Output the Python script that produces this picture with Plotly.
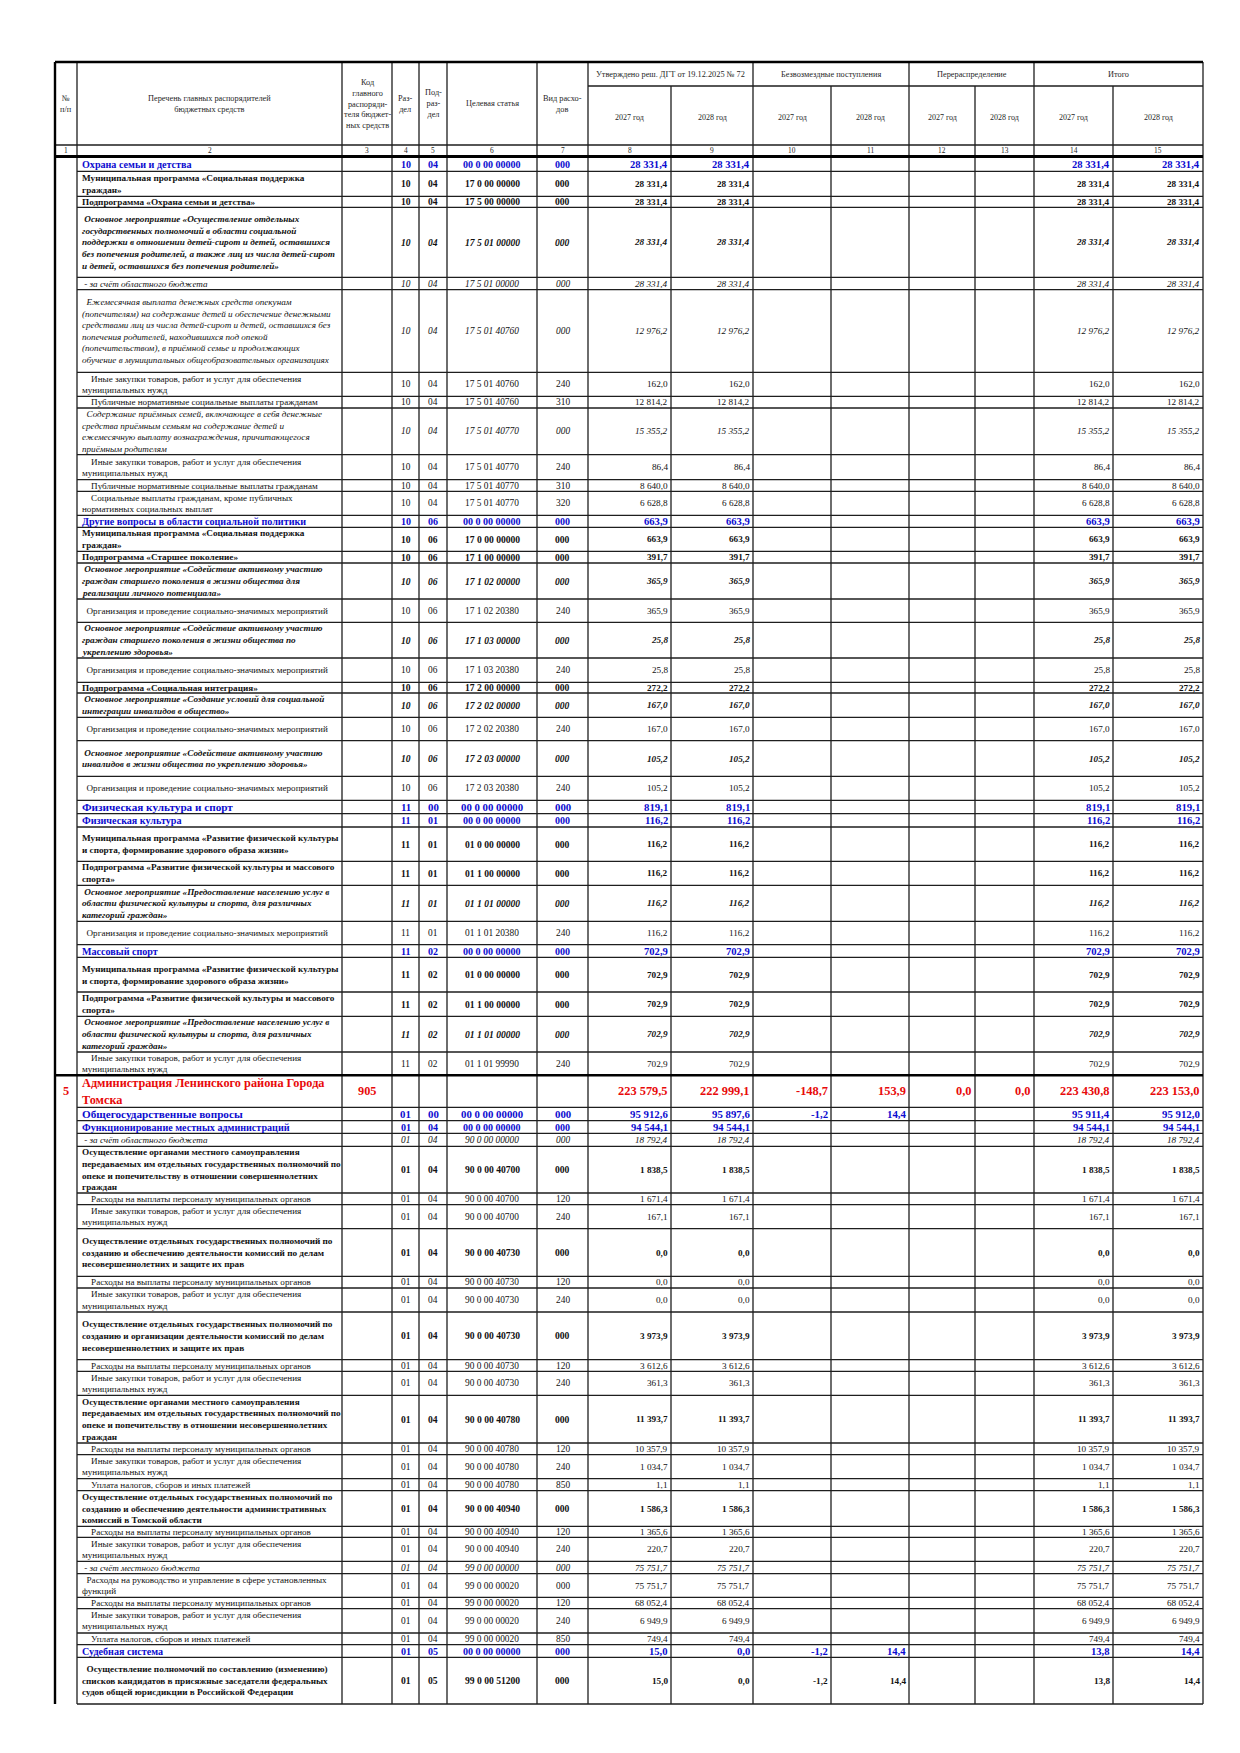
import plotly.graph_objects as go

BLUE = "#0b0bd0"
RED = "#e80a0a"
INK = "#111111"
GRID = "#1e1e1e"
FONT = "Liberation Serif"
NB = "\u00a0"

# ---------------- данные таблицы ----------------
IZ = "Иные закупки товаров, работ и услуг для обеспечения<br>муниципальных нужд"
PUB = "Публичные нормативные социальные выплаты гражданам"
ORG = "Организация и проведение социально-значимых мероприятий"
RV = "Расходы на выплаты персоналу муниципальных органов"
UN = "Уплата налогов, сборов и иных платежей"
MP_SP = "Муниципальная программа «Социальная поддержка<br>граждан»"
MP_FK = "Муниципальная программа «Развитие физической культуры<br>и спорта, формирование здорового образа жизни»"
PP_FK = "Подпрограмма «Развитие физической культуры и массового<br>спорта»"
OM_FK = ("Основное мероприятие «Предоставление населению услуг в<br>области физической культуры и спорта, "
         "для различных<br>категорий граждан»")

names = [
    "Охрана семьи и детства",
    MP_SP,
    "Подпрограмма «Охрана семьи и детства»",
    "Основное мероприятие «Осуществление отдельных<br>государственных полномочий в области социальной<br>"
    "поддержки в отношении детей-сирот и детей, оставшихся<br>без попечения родителей, а также лиц из числа детей-сирот<br>"
    "и детей, оставшихся без попечения родителей»",
    "- за счёт областного бюджета",
    "Ежемесячная выплата денежных средств опекунам<br>(попечителям) на содержание детей и обеспечение денежными<br>"
    "средствами лиц из числа детей-сирот и детей, оставшихся без<br>попечения родителей, находившихся под опекой<br>"
    "(попечительством), в приёмной семье и продолжающих<br>обучение в муниципальных общеобразовательных организациях",
    IZ,
    PUB,
    "Содержание приёмных семей, включающее в себя денежные<br>средства приёмным семьям на содержание детей и<br>"
    "ежемесячную выплату вознаграждения, причитающегося<br>приёмным родителям",
    IZ,
    PUB,
    "Социальные выплаты гражданам, кроме публичных<br>нормативных социальных выплат",
    "Другие вопросы в области социальной политики",
    MP_SP,
    "Подпрограмма «Старшее поколение»",
    "Основное мероприятие «Содействие активному участию<br>граждан старшего поколения в жизни общества для<br>"
    "реализации личного потенциала»",
    ORG,
    "Основное мероприятие «Содействие активному участию<br>граждан старшего поколения в жизни общества по<br>"
    "укреплению здоровья»",
    ORG,
    "Подпрограмма «Социальная интеграция»",
    "Основное мероприятие «Создание условий для социальной<br>интеграции инвалидов в общество»",
    ORG,
    "Основное мероприятие «Содействие активному участию<br>инвалидов в жизни общества по укреплению здоровья»",
    ORG,
    "Физическая культура и спорт",
    "Физическая культура",
    MP_FK,
    PP_FK,
    OM_FK,
    ORG,
    "Массовый спорт",
    MP_FK,
    PP_FK,
    OM_FK,
    IZ,
    "Администрация Ленинского района Города<br>Томска",
    "Общегосударственные вопросы",
    "Функционирование местных администраций",
    "- за счёт областного бюджета",
    "Осуществление органами местного самоуправления<br>передаваемых им отдельных государственных полномочий по<br>"
    "опеке и попечительству в отношении совершеннолетних<br>граждан",
    RV,
    IZ,
    "Осуществление отдельных государственных полномочий по<br>созданию и обеспечению деятельности комиссий по делам<br>"
    "несовершеннолетних и защите их прав",
    RV,
    IZ,
    "Осуществление отдельных государственных полномочий по<br>созданию и организации деятельности комиссий по делам<br>"
    "несовершеннолетних и защите их прав",
    RV,
    IZ,
    "Осуществление органами местного самоуправления<br>передаваемых им отдельных государственных полномочий по<br>"
    "опеке и попечительству в отношении несовершеннолетних<br>граждан",
    RV,
    IZ,
    UN,
    "Осуществление отдельных государственных полномочий по<br>созданию и обеспечению деятельности административных<br>"
    "комиссий в Томской области",
    RV,
    IZ,
    "- за счёт местного бюджета",
    "Расходы на руководство и управление в сфере установленных<br>функций",
    RV,
    IZ,
    UN,
    "Судебная система",
    "Осуществление полномочий по составлению (изменению)<br>списков кандидатов в присяжные заседатели федеральных<br>"
    "судов общей юрисдикции в Российской Федерации",
]

row_kind = [
    "sec", "prog", "prog", "event", "budget", "itemi", "item", "item", "itemi", "item",
    "item", "item", "sec", "prog", "prog", "event", "item2", "event", "item2", "prog",
    "event", "item2", "event", "item2", "top", "sec", "prog", "prog", "event", "item2",
    "sec", "prog", "prog", "event", "item", "admin", "top", "sec", "budget", "prog",
    "item", "item", "prog", "item", "item", "prog", "item", "item", "prog", "item",
    "item", "item", "prog", "item", "item", "budget", "item2", "item", "item", "item",
    "sec", "prog2",
]

nn = [""] * 35 + ["5"] + [""] * 26
grbs = [""] * 35 + ["905"] + [""] * 26

razdel = ["10"] * 24 + ["11"] * 11 + [""] + ["01"] * 26
podrazdel = (["04"] * 12 + ["06"] * 12 + ["00"] + ["01"] * 5 + ["02"] * 5 + [""]
             + ["00"] + ["04"] * 23 + ["05"] * 2)
target = [
    "00 0 00 00000", "17 0 00 00000", "17 5 00 00000", "17 5 01 00000", "17 5 01 00000",
    "17 5 01 40760", "17 5 01 40760", "17 5 01 40760", "17 5 01 40770", "17 5 01 40770",
    "17 5 01 40770", "17 5 01 40770", "00 0 00 00000", "17 0 00 00000", "17 1 00 00000",
    "17 1 02 00000", "17 1 02 20380", "17 1 03 00000", "17 1 03 20380", "17 2 00 00000",
    "17 2 02 00000", "17 2 02 20380", "17 2 03 00000", "17 2 03 20380", "00 0 00 00000",
    "00 0 00 00000", "01 0 00 00000", "01 1 00 00000", "01 1 01 00000", "01 1 01 20380",
    "00 0 00 00000", "01 0 00 00000", "01 1 00 00000", "01 1 01 00000", "01 1 01 99990",
    "", "00 0 00 00000", "00 0 00 00000", "90 0 00 00000", "90 0 00 40700",
    "90 0 00 40700", "90 0 00 40700", "90 0 00 40730", "90 0 00 40730", "90 0 00 40730",
    "90 0 00 40730", "90 0 00 40730", "90 0 00 40730", "90 0 00 40780", "90 0 00 40780",
    "90 0 00 40780", "90 0 00 40780", "90 0 00 40940", "90 0 00 40940", "90 0 00 40940",
    "99 0 00 00000", "99 0 00 00020", "99 0 00 00020", "99 0 00 00020", "99 0 00 00020",
    "00 0 00 00000", "99 0 00 51200",
]
vid = [
    "000", "000", "000", "000", "000", "000", "240", "310", "000", "240",
    "310", "320", "000", "000", "000", "000", "240", "000", "240", "000",
    "000", "240", "000", "240", "000", "000", "000", "000", "000", "240",
    "000", "000", "000", "000", "240", "", "000", "000", "000", "000",
    "120", "240", "000", "120", "240", "000", "120", "240", "000", "120",
    "240", "850", "000", "120", "240", "000", "000", "120", "240", "850",
    "000", "000",
]

utv_2027 = [
    28331.4, 28331.4, 28331.4, 28331.4, 28331.4, 12976.2, 162.0, 12814.2, 15355.2, 86.4,
    8640.0, 6628.8, 663.9, 663.9, 391.7, 365.9, 365.9, 25.8, 25.8, 272.2,
    167.0, 167.0, 105.2, 105.2, 819.1, 116.2, 116.2, 116.2, 116.2, 116.2,
    702.9, 702.9, 702.9, 702.9, 702.9, 223579.5, 95912.6, 94544.1, 18792.4, 1838.5,
    1671.4, 167.1, 0.0, 0.0, 0.0, 3973.9, 3612.6, 361.3, 11393.7, 10357.9,
    1034.7, 1.1, 1586.3, 1365.6, 220.7, 75751.7, 75751.7, 68052.4, 6949.9, 749.4,
    15.0, 15.0,
]
utv_2028 = [
    28331.4, 28331.4, 28331.4, 28331.4, 28331.4, 12976.2, 162.0, 12814.2, 15355.2, 86.4,
    8640.0, 6628.8, 663.9, 663.9, 391.7, 365.9, 365.9, 25.8, 25.8, 272.2,
    167.0, 167.0, 105.2, 105.2, 819.1, 116.2, 116.2, 116.2, 116.2, 116.2,
    702.9, 702.9, 702.9, 702.9, 702.9, 222999.1, 95897.6, 94544.1, 18792.4, 1838.5,
    1671.4, 167.1, 0.0, 0.0, 0.0, 3973.9, 3612.6, 361.3, 11393.7, 10357.9,
    1034.7, 1.1, 1586.3, 1365.6, 220.7, 75751.7, 75751.7, 68052.4, 6949.9, 749.4,
    0.0, 0.0,
]
bezv_2027 = [None] * 35 + [-148.7, -1.2] + [None] * 23 + [-1.2, -1.2]
bezv_2028 = [None] * 35 + [153.9, 14.4] + [None] * 23 + [14.4, 14.4]
pere_2027 = [None] * 35 + [0.0] + [None] * 26
pere_2028 = [None] * 35 + [0.0] + [None] * 26
itogo_2027 = [
    28331.4, 28331.4, 28331.4, 28331.4, 28331.4, 12976.2, 162.0, 12814.2, 15355.2, 86.4,
    8640.0, 6628.8, 663.9, 663.9, 391.7, 365.9, 365.9, 25.8, 25.8, 272.2,
    167.0, 167.0, 105.2, 105.2, 819.1, 116.2, 116.2, 116.2, 116.2, 116.2,
    702.9, 702.9, 702.9, 702.9, 702.9, 223430.8, 95911.4, 94544.1, 18792.4, 1838.5,
    1671.4, 167.1, 0.0, 0.0, 0.0, 3973.9, 3612.6, 361.3, 11393.7, 10357.9,
    1034.7, 1.1, 1586.3, 1365.6, 220.7, 75751.7, 75751.7, 68052.4, 6949.9, 749.4,
    13.8, 13.8,
]
itogo_2028 = [
    28331.4, 28331.4, 28331.4, 28331.4, 28331.4, 12976.2, 162.0, 12814.2, 15355.2, 86.4,
    8640.0, 6628.8, 663.9, 663.9, 391.7, 365.9, 365.9, 25.8, 25.8, 272.2,
    167.0, 167.0, 105.2, 105.2, 819.1, 116.2, 116.2, 116.2, 116.2, 116.2,
    702.9, 702.9, 702.9, 702.9, 702.9, 223153.0, 95912.0, 94544.1, 18792.4, 1838.5,
    1671.4, 167.1, 0.0, 0.0, 0.0, 3973.9, 3612.6, 361.3, 11393.7, 10357.9,
    1034.7, 1.1, 1586.3, 1365.6, 220.7, 75751.7, 75751.7, 68052.4, 6949.9, 749.4,
    14.4, 14.4,
]

head_cols = ["№<br>п/п", "Перечень главных распорядителей<br>бюджетных средств",
             "Код<br>главного<br>распоряди-<br>теля бюджет-<br>ных средств",
             "Раз-<br>дел", "Под-<br>раз-<br>дел", "Целевая статья", "Вид расхо-<br>дов"]
head_groups = ["Утверждено реш. ДГТ от 19.12.2025 № 72", "Безвозмездные поступления",
               "Перераспределение", "Итого"]
head_years = ["2027 год", "2028 год"]
col_numbers = [str(i) for i in range(1, 16)]

# ---------------- геометрия (px страницы) ----------------
col_x = [47, 69, 334, 384, 411, 439, 529, 580, 663, 745, 823, 901, 967, 1026, 1105, 1195]
head_y = [54, 78, 137, 148.5]
row_y = [150, 163.3, 188.3, 199.3, 269.3, 281.7, 364.3, 388.3, 400, 446.7, 471.7, 483.3,
         507.3, 519.3, 543.3, 555, 591, 614.3, 650, 674.3, 685, 709.3, 732.7, 768.3,
         792.3, 805.7, 819, 853.3, 877.3, 913.3, 936.7, 949.3, 984, 1008.3, 1044,
         1067.3, 1099.3, 1112.7, 1125.3, 1138.3, 1185, 1196.7, 1220.7, 1268.3, 1280,
         1304, 1351.7, 1363.3, 1387.3, 1435, 1446.7, 1470.7, 1482.7, 1518.3, 1529.3,
         1553.3, 1565.7, 1589.3, 1600.7, 1625, 1636.7, 1649.3, 1696]

# size - текст графы 2, nsize - суммы, csize - коды, gap - межстрочный шаг
STYLE = {
    "sec":    dict(size=10.1, nsize=10.6, csize=10.0, gap=12, color=BLUE, b=True, i=False, ind=0),
    "top":    dict(size=11.2, nsize=10.8, csize=10.8, gap=12, color=BLUE, b=True, i=False, ind=0),
    "admin":  dict(size=12.3, nsize=12.4, csize=12.0, gap=17.5, color=RED, b=True, i=False, ind=0),
    "prog":   dict(size=9.2, nsize=9.2, csize=9.6, gap=11.7, color=INK, b=True, i=False, ind=0),
    "prog2":  dict(size=9.2, nsize=9.2, csize=9.6, gap=11.7, color=INK, b=True, i=False, ind=2),
    "event":  dict(size=9.2, nsize=9.2, csize=9.6, gap=11.7, color=INK, b=True, i=True, ind=1),
    "budget": dict(size=9.1, nsize=9.2, csize=9.4, gap=11.5, color=INK, b=False, i=True, ind=1),
    "itemi":  dict(size=9.1, nsize=9.2, csize=9.4, gap=11.5, color=INK, b=False, i=True, ind=2),
    "item":   dict(size=9.1, nsize=9.2, csize=9.4, gap=11.2, color=INK, b=False, i=False, ind=4),
    "item2":  dict(size=9.1, nsize=9.2, csize=9.4, gap=11.2, color=INK, b=False, i=False, ind=2),
}


def fmt(v):
    if v is None:
        return ""
    s = f"{abs(v):,.1f}".replace(",", NB).replace(".", ",")
    return ("-" if v < 0 else "") + s


def deco(t, st):
    if st["i"]:
        t = "<i>" + t + "</i>"
    if st["b"]:
        t = "<b>" + t + "</b>"
    return t


annotations = []


def put(x, y, text, size, color=INK, anchor="center"):
    if text == "":
        return
    annotations.append(dict(x=x, y=y, xref="x", yref="y", text=text, showarrow=False,
                            xanchor=anchor, yanchor="middle", align=anchor,
                            font=dict(family=FONT, size=size, color=color)))


def mid(a, b):
    return (a + b) / 2


# ---------- шапка ----------
HC = "#262626"
for j, t in enumerate(head_cols):
    put(mid(col_x[j], col_x[j + 1]), mid(head_y[0], head_y[2]), t, 8.3, HC)
for g, t in enumerate(head_groups):
    a = col_x[7 + 2 * g]
    b = col_x[9 + 2 * g]
    put(mid(a, b), mid(head_y[0], head_y[1]), t, 8.3, HC)
    for k in range(2):
        put(mid(col_x[7 + 2 * g + k], col_x[8 + 2 * g + k]), mid(head_y[1], head_y[2]) + 2,
            head_years[k], 8.0, HC)
for j, t in enumerate(col_numbers):
    put(mid(col_x[j], col_x[j + 1]), mid(head_y[2], head_y[3]) - 0.5, t, 7.4, HC)

# ---------- строки ----------
num_cols = [utv_2027, utv_2028, bezv_2027, bezv_2028, pere_2027, pere_2028, itogo_2027, itogo_2028]
for r in range(len(names)):
    st = STYLE[row_kind[r]]
    yc = mid(row_y[r], row_y[r + 1])
    c = st["color"]
    put(mid(col_x[0], col_x[1]), yc, deco(nn[r], st), st["size"], c)
    lines = names[r].split("<br>")
    n = len(lines)
    for k, ln in enumerate(lines):
        txt = (NB * st["ind"] if k == 0 else "") + ln
        put(col_x[1] + 2.5, yc + (k - (n - 1) / 2) * st["gap"], deco(txt, st), st["size"], c, "left")
    put(mid(col_x[2], col_x[3]), yc, deco(grbs[r], st), st["size"], c)
    put(mid(col_x[3], col_x[4]), yc, deco(razdel[r], st), st["csize"], c)
    put(mid(col_x[4], col_x[5]), yc, deco(podrazdel[r], st), st["csize"], c)
    put(mid(col_x[5], col_x[6]), yc, deco(target[r], st), st["csize"], c)
    put(mid(col_x[6], col_x[7]), yc, deco(vid[r], st), st["csize"], c)
    for k, series in enumerate(num_cols):
        put(col_x[8 + k] - 1.5, yc, deco(fmt(series[r]), st), st["nsize"], c, "right")

# ---------- сетка ----------
thin_x, thin_y = [], []
thick_x, thick_y = [], []


def seg(xs, ys, x0, y0, x1, y1):
    xs += [x0, x1, None]
    ys += [y0, y1, None]


left, right = col_x[0], col_x[-1]
bottom = row_y[-1]
seg(thick_x, thick_y, left, head_y[0], right, head_y[0])
seg(thick_x, thick_y, left, head_y[0], left, bottom)
seg(thin_x, thin_y, right, head_y[0], right, bottom)
seg(thin_x, thin_y, col_x[7], head_y[1], right, head_y[1])
seg(thin_x, thin_y, left, head_y[2], right, head_y[2])
for j in range(1, len(col_x) - 1):
    y0 = head_y[1] if j in (8, 10, 12, 14) else head_y[0]
    seg(thin_x, thin_y, col_x[j], y0, col_x[j], bottom)
for r, y in enumerate(row_y[1:], start=1):
    if r == 35:
        seg(thick_x, thick_y, left, y, right, y)
    else:
        seg(thin_x, thin_y, col_x[1], y, right, y)

fig = go.Figure()
fig.add_trace(go.Scatter(x=thin_x, y=thin_y, mode="lines", line=dict(color=GRID, width=1.3),
                         hoverinfo="skip", showlegend=False))
fig.add_trace(go.Scatter(x=thick_x, y=thick_y, mode="lines", line=dict(color="#000", width=2.4),
                         hoverinfo="skip", showlegend=False))
fig.add_trace(go.Scatter(x=[left, right], y=[head_y[3], head_y[3]], mode="lines",
                         line=dict(color="#000", width=3.2), hoverinfo="skip", showlegend=False))

fig.update_layout(
    width=1240, height=1753,
    margin=dict(l=0, r=0, t=0, b=0),
    paper_bgcolor="white", plot_bgcolor="white",
    xaxis=dict(range=[0, 1240], visible=False, fixedrange=True),
    yaxis=dict(range=[1753, 0], visible=False, fixedrange=True),
    annotations=annotations,
    showlegend=False,
)
fig.write_html("out.html")
